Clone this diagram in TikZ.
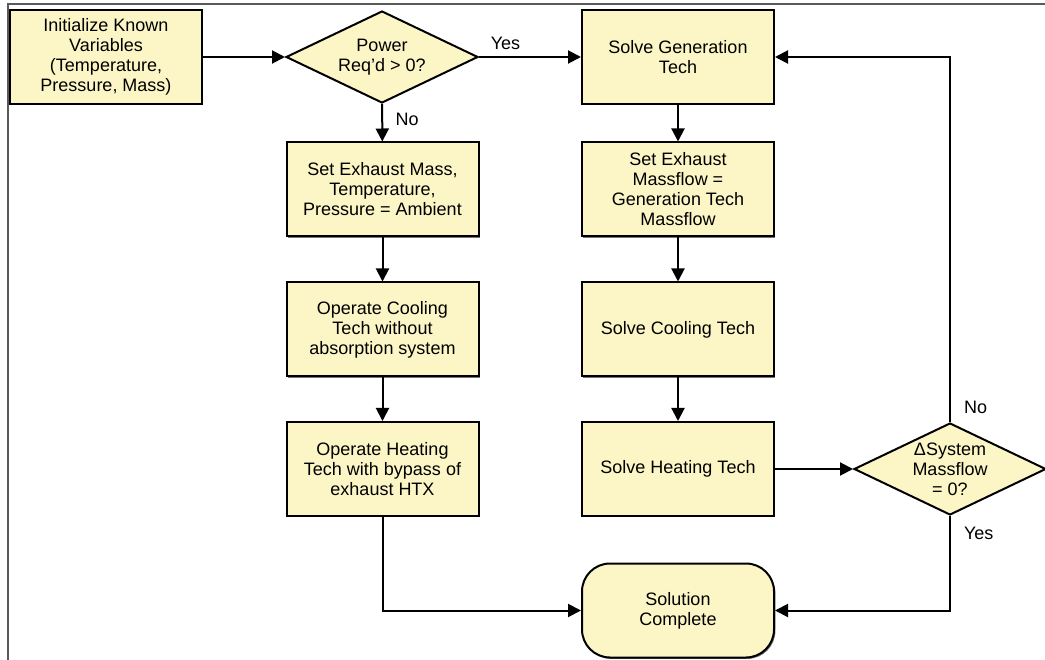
\documentclass[tikz,border=0pt]{standalone}
\usepackage{fontspec}
\setmainfont{Liberation Sans}
\usetikzlibrary{arrows.meta,shapes.geometric,shadows}
\definecolor{boxfill}{RGB}{252,246,198}
\definecolor{framegray}{RGB}{90,90,90}
\begin{document}
\begin{tikzpicture}[x=1pt,y=-1pt,
  font=\fontsize{18}{20}\selectfont,
  shadowed/.style={drop shadow={shadow xshift=1.4pt, shadow yshift=-1.4pt, fill=black!55, opacity=1}},
  proc/.style={rectangle, draw=black, line width=2pt, fill=boxfill,
    minimum width=192pt, minimum height=94pt, align=center, inner sep=2pt, shadowed},
  term/.style={proc, rounded corners=28pt},
  decision/.style={diamond, draw=black, line width=2pt, fill=boxfill,
    minimum width=192pt, minimum height=92pt, inner sep=0pt},
  arr/.style={-{Triangle[length=13pt,width=13pt]}, line width=2pt},
  lbl/.style={inner sep=3pt}
]
\useasboundingbox (0,0) rectangle (1045,660);
% frame
\draw[framegray, line width=2pt] (8,662) -- (8,4.5) -- (1047,4.5);

% nodes
\node[proc] (init) at (106,57) {Initialize Known\\Variables\\(Temperature,\\Pressure, Mass)};
\node[decision, label={[align=center]center:Power\\Req’d > 0?}] (d1) at (382,57) {};
\node[proc] (gen) at (678,57) {Solve Generation\\Tech};
\node[proc] (setex) at (382.5,189.5) {Set Exhaust Mass,\\Temperature,\\Pressure = Ambient};
\node[proc] (setmf) at (678,189.5) {Set Exhaust\\Massflow =\\Generation Tech\\Massflow};
\node[proc] (opcool) at (382.5,329.5) {Operate Cooling\\Tech without\\absorption system};
\node[proc] (solvecool) at (678,329.5) {Solve Cooling Tech};
\node[proc] (opheat) at (382.5,469) {Operate Heating\\Tech with bypass of\\exhaust HTX};
\node[proc] (solveheat) at (678,469) {Solve Heating Tech};
\node[decision, label={[align=center]center:ΔSystem\\Massflow\\= 0?}] (d2) at (950,469) {};
\node[term] (done) at (678,610.5) {Solution\\Complete};

% connectors
\draw[arr] (init) -- (d1);
\draw[arr] (d1) -- node[lbl, above=3pt, pos=0.26] {Yes} (gen);
\draw[arr] (d1) -- node[lbl, right=9.5pt, pos=0.41] {No} (setex);
\draw[arr] (setex) -- (opcool);
\draw[arr] (opcool) -- (opheat);
\draw[arr] (gen) -- (setmf);
\draw[arr] (setmf) -- (solvecool);
\draw[arr] (solvecool) -- (solveheat);
\draw[arr] (solveheat) -- (d2);
\draw[arr] (opheat) |- (done);
\draw[arr] (d2) |- node[lbl, right=10pt, pos=0.093] {Yes} (done);
\draw[arr] (d2) |- node[lbl, right=10pt, pos=0.02] {No} (gen);
\end{tikzpicture}
\end{document}
